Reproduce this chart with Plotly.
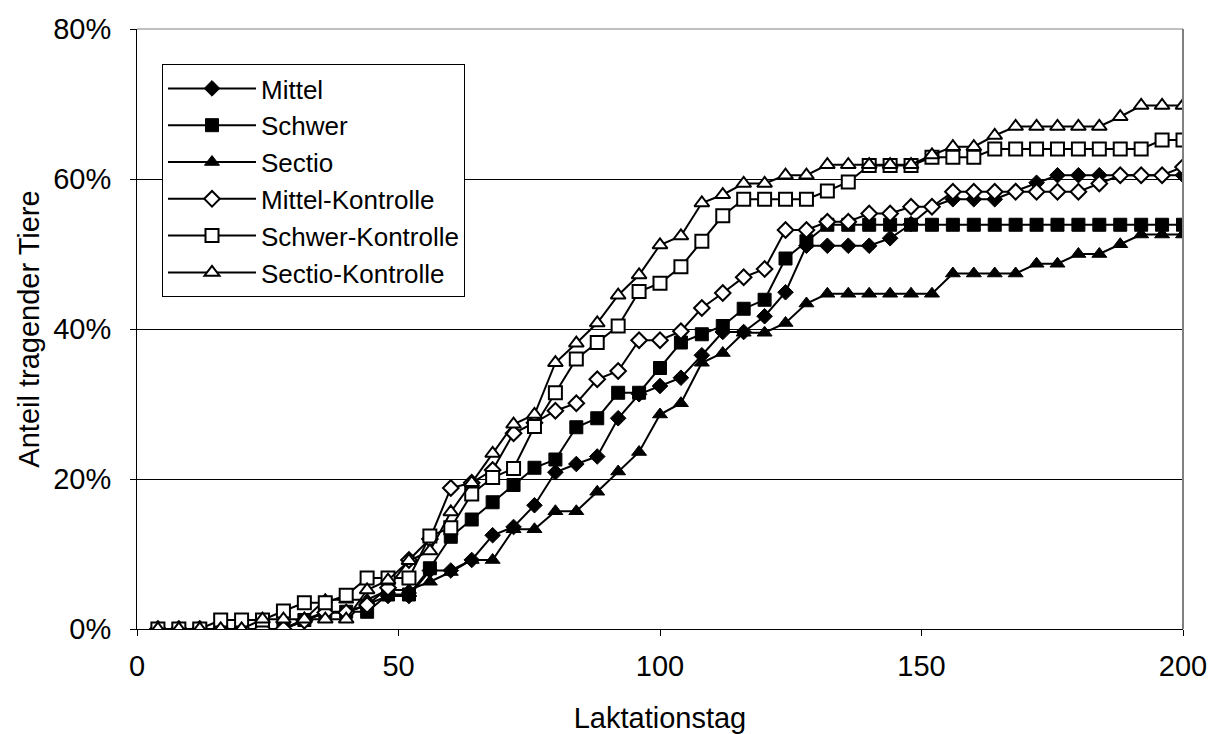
import plotly.graph_objects as go

days = list(range(4, 201, 4))

mittel = [0, 0, 0, 0, 0, 0, 0,
          1.1, 2.2, 2.2, 3.3, 4.4, 4.4, 7.8, 7.8, 9.2, 12.5,
          13.6, 16.5, 20.9, 22.0, 23.0, 28.1, 31.3, 32.4, 33.5, 36.5,
          39.6, 39.6, 41.7, 44.9, 51.1, 51.1, 51.1, 51.1, 52.1, 54.0,
          56.3, 57.3, 57.3, 57.3, 58.4, 59.5, 60.5, 60.5, 60.5, 60.5,
          60.5, 60.5, 60.5]

schwer = [0, 0, 0, 0, 0, 0, 0,
          1.2, 2.3, 2.3, 2.3, 4.6, 4.6, 8.1, 12.3, 14.6, 16.9,
          19.2, 21.5, 22.6, 26.9, 28.1, 31.5, 31.5, 34.8, 38.2, 39.3,
          40.4, 42.7, 43.9, 49.4, 51.7,
          53.9, 53.9, 53.9, 53.9, 53.9, 53.9, 53.9, 53.9, 53.9, 53.9,
          53.9, 53.9, 53.9, 53.9, 53.9, 53.9, 53.9, 53.9]

sectio = [0, 0, 0, 0, 0, 0, 0,
          1.3, 3.9, 3.9, 3.9, 5.2, 5.2, 6.3, 7.6, 9.2, 9.2,
          13.3, 13.3, 15.7, 15.7, 18.3, 21.0, 23.6, 28.6, 30.1, 35.5,
          36.8, 39.5, 39.5, 40.8, 43.4, 44.7, 44.7, 44.7, 44.7, 44.7,
          44.7, 47.4, 47.4, 47.4, 47.4, 48.7, 48.7, 50.0, 50.0, 51.3,
          52.6, 52.6, 52.6]

mittel_k = [0, 0, 0, 0, 0, 0, 0,
            1.1, 2.2, 2.2, 3.2, 5.5, 9.2, 12.0, 18.8, 19.5, 21.2,
            26.1, 27.5, 29.1, 30.1, 33.3, 34.4, 38.5, 38.5, 39.7, 42.8,
            44.8, 46.9, 48.0, 53.2, 53.2, 54.3, 54.3, 55.4, 55.4, 56.3,
            56.3, 58.3, 58.3, 58.3, 58.3, 58.3, 58.3, 58.3, 59.4, 60.5,
            60.5, 60.5, 61.6]

schwer_k = [0, 0, 0,
            1.2, 1.2, 1.2, 2.4, 3.5, 3.5, 4.5, 6.8, 6.8, 6.8,
            12.4, 13.5, 18.0, 20.2, 21.4, 27.0, 31.5, 36.0, 38.2, 40.4,
            45.0, 46.1, 48.3, 51.7, 55.1, 57.3, 57.3, 57.3, 57.3, 58.4,
            59.6, 61.8, 61.8, 61.8, 62.9, 62.9, 62.9, 64.0, 64.0, 64.0,
            64.0, 64.0, 64.0, 64.0, 64.0, 65.2, 65.2]

sectio_k = [0, 0, 0, 0, 0,
            1.3, 1.3, 1.3, 1.3, 1.3, 5.2, 6.5, 9.1, 10.4, 15.6,
            19.5, 23.4, 27.3, 28.6, 35.5, 38.1, 40.8, 44.5, 47.2, 51.2,
            52.4, 56.8, 57.9, 59.4, 59.4, 60.5, 60.5, 61.9, 61.9, 61.9,
            61.9, 61.9, 63.2, 64.3, 64.3, 65.8, 67.0, 67.0, 67.0, 67.0,
            67.0, 68.3, 69.8, 69.8, 69.8]

x_ticks = [0, 50, 100, 150, 200]
y_ticks = [0, 20, 40, 60, 80]
y_tick_labels = ["0%", "20%", "40%", "60%", "80%"]

series_names = ["Mittel", "Schwer", "Sectio",
                "Mittel-Kontrolle", "Schwer-Kontrolle", "Sectio-Kontrolle"]
series_values = [mittel, schwer, sectio, mittel_k, schwer_k, sectio_k]
symbols = ["diamond", "square", "triangle-up",
           "diamond-open", "square-open", "triangle-up-open"]
sizes = [12, 13, 13, 12, 13, 13]

FONT = "Liberation Sans, Arial, sans-serif"

fig = go.Figure()
for name, vals, sym, sz in zip(series_names, series_values, symbols, sizes):
    is_open = sym.endswith("-open")
    fig.add_trace(go.Scatter(
        x=days, y=vals, name=name, mode="lines+markers",
        line=dict(color="black", width=2),
        marker=dict(symbol=sym.replace("-open", ""), size=sz,
                    color="white" if is_open else "black",
                    line=dict(color="black", width=2 if is_open else 1)),
    ))

fig.update_layout(
    width=1209, height=734,
    margin=dict(l=137, r=26, t=29, b=105),
    paper_bgcolor="white", plot_bgcolor="white",
    font=dict(family=FONT, size=29, color="black"),
    showlegend=True,
    legend=dict(
        x=(162 - 137) / 1046, y=(629 - 64) / 600,
        xanchor="left", yanchor="top",
        bgcolor="white", bordercolor="black", borderwidth=1,
        font=dict(family=FONT, size=26, color="black"),
        itemwidth=88,
        tracegroupgap=0,
    ),
    xaxis=dict(
        range=[0, 200], tickvals=x_ticks,
        showgrid=False, zeroline=False, automargin=False,
        showline=True, linecolor="black", linewidth=1,
        ticks="outside", ticklen=6, tickcolor="black",
        ticklabelstandoff=5,
        title=dict(text="Laktationstag", standoff=32,
                   font=dict(family=FONT, size=29)),
    ),
    yaxis=dict(
        range=[0, 80], tickvals=y_ticks, ticktext=y_tick_labels,
        showgrid=True, gridcolor="black", gridwidth=1,
        zeroline=False, automargin=False,
        showline=True, linecolor="black", linewidth=1,
        ticks="outside", ticklen=6, tickcolor="black",
        ticklabelstandoff=13,
        title=dict(text="Anteil tragender Tiere", standoff=5,
                   font=dict(family=FONT, size=29)),
    ),
    shapes=[
        dict(type="line", xref="paper", yref="paper", x0=1, x1=1, y0=0, y1=1,
             line=dict(color="#808080", width=2)),
        dict(type="line", xref="paper", yref="paper", x0=0, x1=1, y0=1, y1=1,
             line=dict(color="#808080", width=1)),
    ],
)

# remove the browser's default 8px body margin so the figure fills the window
fig.write_html(
    "out.html",
    config={"displayModeBar": False},
    post_script="document.body.style.margin='0';"
                "document.body.style.overflow='hidden';",
)
